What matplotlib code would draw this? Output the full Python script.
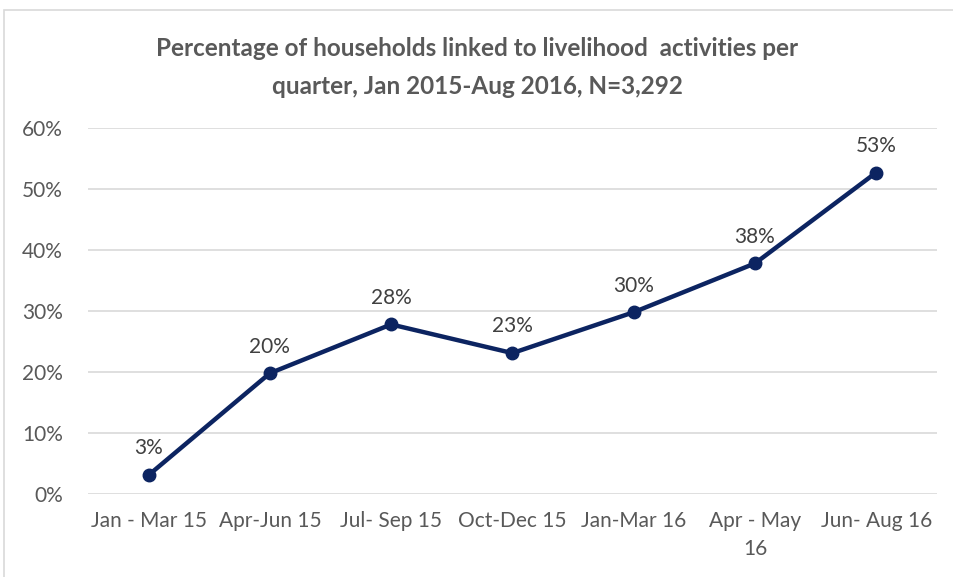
import matplotlib.pyplot as plt
from matplotlib.patches import Rectangle
import numpy as np

plt.rcParams['font.family'] = ['Lato', 'DejaVu Sans']

# data
quarters = ['Jan - Mar 15', 'Apr-Jun 15', 'Jul- Sep 15', 'Oct-Dec 15',
            'Jan-Mar 16', 'Apr - May\n16', 'Jun- Aug 16']
pct = [3.1, 19.8, 27.8, 23.1, 29.8, 37.8, 52.7]
labels = ['3%', '20%', '28%', '23%', '30%', '38%', '53%']
yticks = [0, 10, 20, 30, 40, 50, 60]

fig = plt.figure(figsize=(9.54, 5.77), dpi=100)
ax = fig.add_axes([0.0922, 0.1438, 0.8898, 0.6344])

# chart border
fig.patches.append(Rectangle((4 / 954, -0.1), 1.2, 1 - 10 / 577 + 0.1,
                             transform=fig.transFigure, fill=False,
                             edgecolor='#d9d9d9', linewidth=1.2))

x = np.arange(len(quarters))
ax.plot(x, pct, color='#0c2461', linewidth=3.2, marker='o', markersize=9,
        solid_capstyle='round', zorder=3)
for xi, yi, lab in zip(x, pct, labels):
    ax.annotate(lab, (xi, yi), xytext=(0, 12), textcoords='offset points',
                ha='center', va='bottom', fontsize=15, color='#404040')

ax.set_xlim(-0.5, len(quarters) - 0.5)
ax.set_ylim(0, 60)
ax.set_yticks(yticks)
ax.set_yticklabels([f'{t}%' for t in yticks])
ax.set_xticks(x)
ax.set_xticklabels(quarters, linespacing=1.5)
ax.grid(axis='y', color='#d9d9d9', linewidth=1.2)
ax.set_axisbelow(True)
for s in ax.spines.values():
    s.set_visible(False)
ax.tick_params(length=0, labelsize=15, labelcolor='#595959')
ax.tick_params(axis='x', pad=12)
ax.tick_params(axis='y', pad=18)

fig.text(0.5, 1 - 48 / 577, 'Percentage of households linked to livelihood  activities per',
         ha='center', va='center', fontsize=17.5, fontweight='bold', color='#595959')
fig.text(0.5, 1 - 86 / 577, 'quarter, Jan 2015-Aug 2016, N=3,292',
         ha='center', va='center', fontsize=17.5, fontweight='bold', color='#595959')

fig.savefig('out.png', dpi=100)
